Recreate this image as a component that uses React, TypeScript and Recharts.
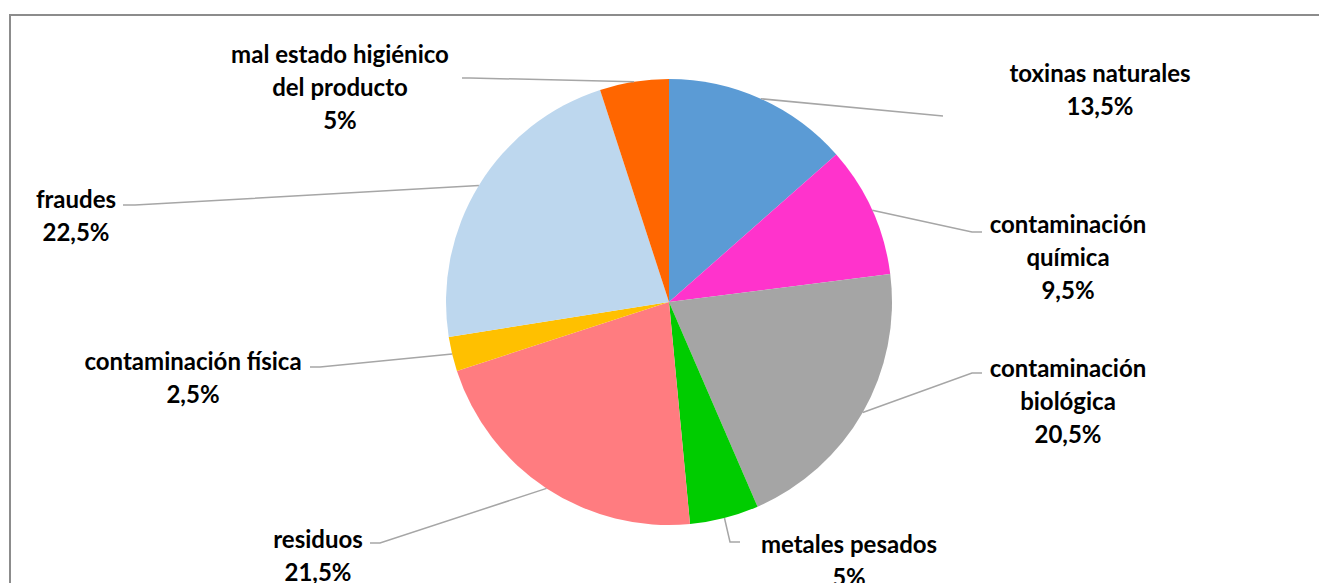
import React from 'react'
import { PieChart, Pie, Cell } from 'recharts'

const categories = [
  'toxinas naturales',
  'contaminación química',
  'contaminación biológica',
  'metales pesados',
  'residuos',
  'contaminación física',
  'fraudes',
  'mal estado higiénico del producto',
]
const shares = [13.5, 9.5, 20.5, 5, 21.5, 2.5, 22.5, 5]
const colors = ['#5B9BD5', '#FF33CC', '#A5A5A5', '#00CC00', '#FF7C80', '#FFC000', '#BDD7EE', '#FF6600']

const data = categories.map((name, i) => ({ name, value: shares[i] }))

// leader line bends + text placement for each label (page pixels)
const labelLayout = [
  { path: [[943, 116]], tx: 1100, ty: 72, wrap: 30 },
  { path: [[972, 232], [982, 232]], tx: 1068, ty: 223, wrap: 14 },
  { path: [[972, 373], [982, 373]], tx: 1068, ty: 367, wrap: 14 },
  { path: [[730, 542], [740, 542]], tx: 849, ty: 543, wrap: 30 },
  { path: [[380, 543], [370, 543]], tx: 318, ty: 538, wrap: 30 },
  { path: [[320, 367], [310, 367]], tx: 193, ty: 360, wrap: 30 },
  { path: [[135, 205], [123, 205]], tx: 76, ty: 198, wrap: 30 },
  { path: [[470, 78], [462, 78]], tx: 340, ty: 53, wrap: 20 },
]

const RAD = Math.PI / 180
const LINE_H = 33

const wrapText = (s: string, max: number) => {
  const out: string[] = []
  let cur = ''
  s.split(' ').forEach((w) => {
    if (cur && (cur + ' ' + w).length > max) {
      out.push(cur)
      cur = w
    } else {
      cur = cur ? cur + ' ' + w : w
    }
  })
  if (cur) out.push(cur)
  return out
}

const renderLabel = (props: any) => {
  const { cx, cy, outerRadius, midAngle, index, name, value } = props
  const lay = labelLayout[index]
  const sx = cx + outerRadius * Math.cos(-midAngle * RAD)
  const sy = cy + outerRadius * Math.sin(-midAngle * RAD)
  const pts = [[sx, sy], ...lay.path].map((p) => p.join(',')).join(' ')
  const lines = [...wrapText(name, lay.wrap), String(value).replace('.', ',') + '%']
  return (
    <g key={'lbl' + index}>
      <polyline points={pts} fill="none" stroke="#A6A6A6" strokeWidth={1.5} />
      {lines.map((t, k) => (
        <text
          key={k}
          x={lay.tx}
          y={lay.ty + k * LINE_H}
          textAnchor="middle"
          dominantBaseline="central"
          fontFamily="Lato, 'Open Sans', sans-serif"
          fontWeight={700}
          fontSize={24}
          fill="#000"
        >
          {t}
        </text>
      ))}
    </g>
  )
}

export default function App() {
  return (
    <div
      style={{
        position: 'absolute',
        left: 0,
        top: 0,
        width: 1319,
        height: 583,
        overflow: 'hidden',
        background: '#fff',
      }}
    >
      <div
        style={{
          position: 'absolute',
          left: 9,
          top: 14,
          width: 1400,
          height: 700,
          borderTop: '2px solid #8C8C8C',
          borderLeft: '2px solid #8C8C8C',
        }}
      />
      <div style={{ position: 'absolute', left: 0, top: 0 }}>
        <PieChart width={1319} height={583} margin={{ top: 0, right: 0, bottom: 0, left: 0 }}>
          <Pie
            data={data}
            dataKey="value"
            nameKey="name"
            cx={669}
            cy={302}
            outerRadius={223}
            startAngle={90}
            endAngle={-270}
            stroke="none"
            label={renderLabel}
            labelLine={false}
            isAnimationActive={false}
          >
            {data.map((d, i) => (
              <Cell key={d.name} fill={colors[i]} />
            ))}
          </Pie>
        </PieChart>
      </div>
    </div>
  )
}
